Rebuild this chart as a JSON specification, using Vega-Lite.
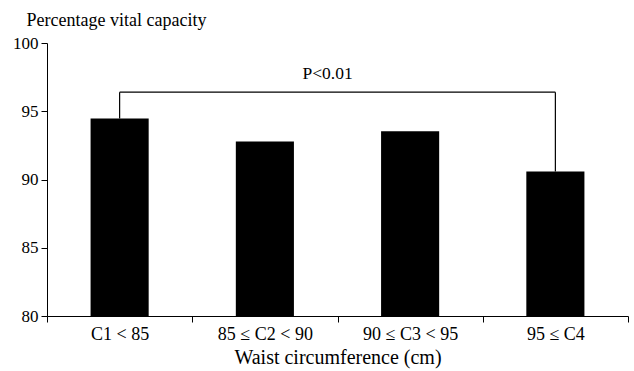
{
  "$schema": "https://vega.github.io/schema/vega-lite/v6.json",
  "autosize": "none",
  "width": 581,
  "height": 273,
  "padding": {"left": 47, "top": 43, "right": 6, "bottom": 55},
  "config": {
    "view": {"stroke": null},
    "font": "Liberation Serif",
    "axis": {"grid": false, "domainColor": "black", "tickColor": "black", "labelColor": "black", "titleColor": "black", "titleFontWeight": "normal"}
  },
  "datasets": {
    "bars": [
      {"group": "C1 < 85", "value": 94.47},
      {"group": "85 ≤ C2 < 90", "value": 92.79},
      {"group": "90 ≤ C3 < 95", "value": 93.54},
      {"group": "95 ≤ C4", "value": 90.59}
    ],
    "bracket": [
      {"x": "C1 < 85", "x2": "C1 < 85", "y": 94.47, "y2": 96.4},
      {"x": "C1 < 85", "x2": "95 ≤ C4", "y": 96.4, "y2": 96.4},
      {"x": "95 ≤ C4", "x2": "95 ≤ C4", "y": 90.59, "y2": 96.4}
    ],
    "note": [{"x": "90 ≤ C3 < 95", "y": 97.71, "label": "P<0.01"}]
  },
  "layer": [
    {
      "data": {"name": "bars"},
      "mark": {"type": "bar", "color": "black", "width": {"band": 0.4}},
      "encoding": {
        "x": {
          "field": "group", "type": "nominal", "sort": null,
          "scale": {"paddingInner": 0, "paddingOuter": 0},
          "axis": {"title": "Waist circumference (cm)", "labelAngle": 0, "labelFontSize": 18, "titleFontSize": 20, "tickBand": "extent", "tickSize": 6, "labelPadding": 3, "titlePadding": 4, "labelOverlap": false}
        },
        "y": {
          "field": "value", "type": "quantitative",
          "scale": {"domain": [80, 100], "zero": false},
          "axis": {"values": [80, 85, 90, 95, 100], "labelFontSize": 17, "tickSize": 6, "labelPadding": 3, "title": "Percentage vital capacity", "titleAngle": 0, "titleFontSize": 18, "titleAlign": "left", "titleBaseline": "middle", "titleX": -21, "titleY": -23}
        },
        "y2": {"datum": 80}
      }
    },
    {
      "data": {"name": "bracket"},
      "mark": {"type": "rule", "color": "black", "strokeWidth": 1.2},
      "encoding": {
        "x": {"field": "x", "type": "nominal", "sort": null},
        "x2": {"field": "x2"},
        "y": {"field": "y", "type": "quantitative"},
        "y2": {"field": "y2"}
      }
    },
    {
      "data": {"name": "note"},
      "mark": {"type": "text", "align": "left", "baseline": "middle", "fontSize": 17.5, "dx": -35, "color": "black"},
      "encoding": {
        "x": {"field": "x", "type": "nominal", "sort": null, "bandPosition": 0},
        "y": {"field": "y", "type": "quantitative"},
        "text": {"field": "label"}
      }
    }
  ]
}
